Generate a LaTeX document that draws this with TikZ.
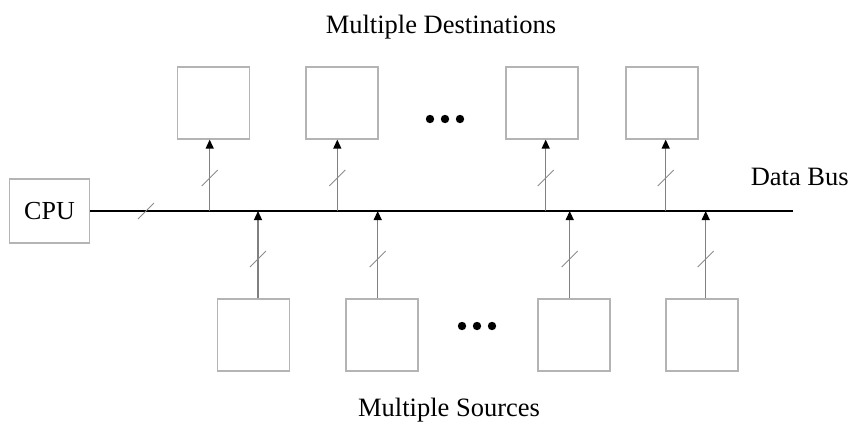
\documentclass[tikz,border=0pt]{standalone}
\usepackage{fontspec}
\setmainfont{Liberation Serif}
\usetikzlibrary{arrows.meta,calc}

\definecolor{boxgray}{HTML}{B4B4B4}
\definecolor{linegray}{HTML}{808080}
\definecolor{slashgray}{HTML}{8C8C8C}

\tikzset{
  unit/.style={draw=boxgray, line width=1.2pt, minimum width=72pt,
    minimum height=72pt, inner sep=0pt},
  cpubox/.style={draw=boxgray, line width=1.2pt, minimum width=80pt,
    minimum height=64pt, inner sep=0pt, font=\fontsize{26}{30}\selectfont},
  label/.style={font=\fontsize{26.5}{30}\selectfont, anchor=base},
  bus/.style={line width=1.4pt, black},
  feed/.style={draw=linegray, line width=1.3pt,
    -{Triangle[length=9pt, width=8pt, color=black]}},
  slash/.style={draw=slashgray, line width=0.8pt},
  dot/.style={fill=black}
}

\begin{document}
\begin{tikzpicture}[x=1pt, y=-1pt]
  \useasboundingbox (0,0) rectangle (853,424);

  % processor and the shared bus
  \node[cpubox] (cpu) at (49.5,211) {CPU};
  \coordinate (busend) at (793,211);
  \draw[bus] (cpu.east) -- (busend);
  \draw[slash] ($(146,211)+(-8,8)$) -- ++(16,-16);

  % destination units above the bus
  \node[unit] (d1) at (213.5,103) {};
  \node[unit] (d2) at (342,103) {};
  \node[unit] (d3) at (542,103) {};
  \node[unit] (d4) at (662,103) {};

  % source units below the bus
  \node[unit] (s1) at (253.5,335) {};
  \node[unit] (s2) at (382,335) {};
  \node[unit] (s3) at (574,335) {};
  \node[unit] (s4) at (702,335) {};

  % taps on the bus
  \coordinate (td1) at (209.7,211);
  \coordinate (td2) at (337.3,211);
  \coordinate (td3) at (545.7,211);
  \coordinate (td4) at (665.7,211);
  \coordinate (ts1) at (258,211);
  \coordinate (ts2) at (377.7,211);
  \coordinate (ts3) at (569.7,211);
  \coordinate (ts4) at (705.7,211);

  % bus to destinations
  \foreach \i in {1,...,4}{
    \draw[feed] (td\i) -- (td\i |- d\i.south);
    \draw[slash] ($(td\i)+(-8,-25)$) -- ++(16,-16);
  }

  % sources to bus
  \foreach \i in {1,...,4}{
    \draw[feed] (ts\i |- s\i.north) -- (ts\i);
    \draw[slash] ($(ts\i)+(-8,56)$) -- ++(16,-16);
  }

  % ellipses between the units
  \foreach \x in {430,445,460} \fill[dot] (\x,119) circle (4.2);
  \foreach \x in {462,477,492} \fill[dot] (\x,326) circle (4.2);

  % captions
  \node[label] (dest) at (441,33) {Multiple Destinations};
  \node[label] (src) at (449,416.7) {Multiple Sources};
  \node[label] (busname) at (799.7,185) {Data Bus};
\end{tikzpicture}
\end{document}
